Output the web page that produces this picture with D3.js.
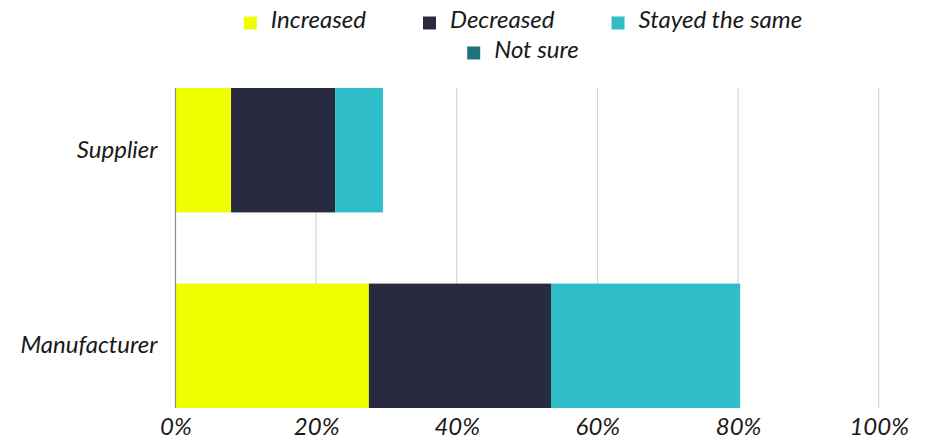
<!DOCTYPE html>
<html>
<head>
<meta charset="utf-8">
<script src="https://cdn.jsdelivr.net/npm/d3@7/dist/d3.min.js"></script>
<style>
  html, body { margin: 0; padding: 0; background: #fff; }
  svg { display: block; }
  text { font-family: Lato, "Open Sans", sans-serif; font-style: italic; font-weight: 400; fill: #1a1a1a; }
</style>
</head>
<body>
<svg id="chart" width="930" height="441"></svg>
<script>
// Respondent groups and share of answers (percent)
const categories = ["Supplier", "Manufacturer"];
const seriesNames = ["Increased", "Decreased", "Stayed the same", "Not sure"];
const increased = [7.9, 27.5];
const decreased = [14.8, 25.9];
const stayedSame = [6.8, 26.9];
const notSure = [0, 0];
const tickValues = [0, 20, 40, 60, 80, 100];
const colors = ["#F0FF00", "#282A3F", "#2FBDC9", "#1F7478"];

const rows = categories.map((c, i) => ({
  category: c,
  "Increased": increased[i],
  "Decreased": decreased[i],
  "Stayed the same": stayedSame[i],
  "Not sure": notSure[i]
}));

const FONT = "Lato, 'Open Sans', sans-serif";
const FS = 24;

const svg = d3.select("#chart");
const margin = { left: 175.5, right: 51.3, top: 88, bottom: 33 };
const width = 930, height = 441;

const x = d3.scaleLinear().domain([0, 100]).range([margin.left, width - margin.right]);
const y = d3.scaleBand().domain(categories)
  .range([margin.top, height - margin.bottom])
  .paddingInner(0.364).paddingOuter(0);
const color = d3.scaleOrdinal().domain(seriesNames).range(colors);

// Vertical gridlines
svg.append("g")
  .selectAll("line")
  .data(tickValues.filter(t => t > 0))
  .join("line")
  .attr("x1", d => x(d)).attr("x2", d => x(d))
  .attr("y1", margin.top).attr("y2", height - margin.bottom)
  .attr("stroke", "#cfcfcf").attr("stroke-width", 1);

// Stacked bars
const stacked = d3.stack().keys(seriesNames)(rows);
svg.append("g")
  .selectAll("g")
  .data(stacked)
  .join("g")
  .attr("fill", d => color(d.key))
  .selectAll("rect")
  .data(d => d)
  .join("rect")
  .attr("x", d => x(d[0]))
  .attr("width", d => x(d[1]) - x(d[0]))
  .attr("y", d => y(d.data.category))
  .attr("height", y.bandwidth());

// Category axis line
svg.append("line")
  .attr("x1", x(0)).attr("x2", x(0))
  .attr("y1", margin.top).attr("y2", height - margin.bottom)
  .attr("stroke", "#8c8c8c").attr("stroke-width", 1.2);

// Category labels
const yAxis = svg.append("g")
  .attr("transform", `translate(${x(0)},0)`)
  .call(d3.axisLeft(y).tickSize(0).tickPadding(18));
yAxis.select(".domain").remove();
yAxis.selectAll("text")
  .attr("font-size", FS)
  .attr("font-family", FONT)
  .attr("fill", "#1a1a1a");

// Percent axis labels
const xAxis = svg.append("g")
  .attr("transform", `translate(0,${height - margin.bottom})`)
  .call(d3.axisBottom(x).tickValues(tickValues).tickFormat(d => d + "%").tickSize(0).tickPadding(10));
xAxis.select(".domain").remove();
xAxis.selectAll("text")
  .attr("font-size", FS)
  .attr("font-family", FONT)
  .attr("fill", "#1a1a1a");

// Legend, centred in two rows
const legendRows = [seriesNames.slice(0, 3), seriesNames.slice(3)];
const legendCenter = 523;
const sw = 13, textOffset = 27, gap = 57;
legendRows.forEach((names, r) => {
  const g = svg.append("g");
  const baseY = 27.5 + r * 30;
  let cursor = 0;
  names.forEach(name => {
    const item = g.append("g").attr("transform", `translate(${cursor},0)`);
    item.append("rect")
      .attr("x", 0).attr("y", baseY - 11).attr("width", sw).attr("height", sw)
      .attr("fill", color(name));
    const t = item.append("text")
      .attr("x", textOffset).attr("y", baseY)
      .attr("font-size", FS)
      .text(name);
    cursor += textOffset + t.node().getComputedTextLength() + gap;
  });
  const total = cursor - gap;
  g.attr("transform", `translate(${legendCenter - total / 2},0)`);
});
</script>
</body>
</html>
